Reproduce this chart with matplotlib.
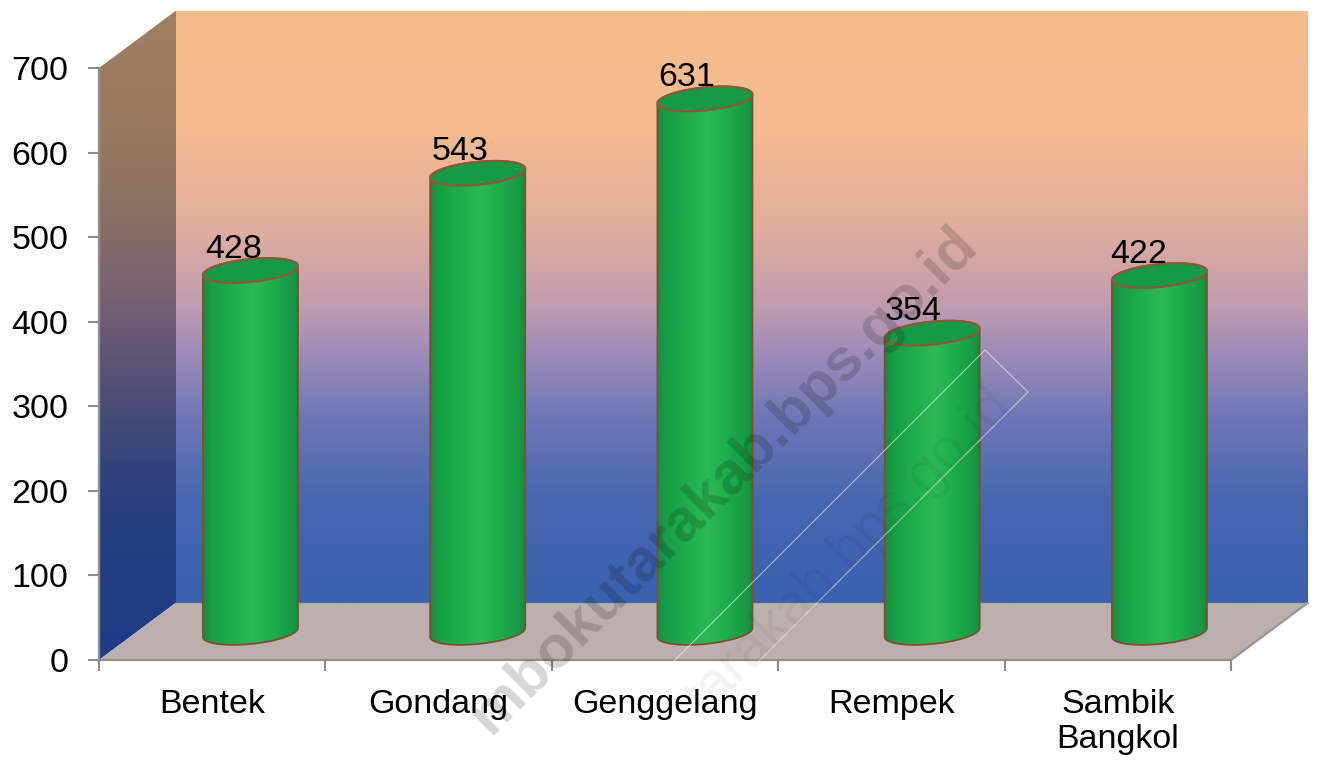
import numpy as np
import matplotlib
matplotlib.use("Agg")
import matplotlib.pyplot as plt
from matplotlib.colors import LinearSegmentedColormap
from matplotlib.patches import Polygon
from matplotlib.path import Path
from matplotlib.lines import Line2D

plt.rcParams['font.family'] = ['Liberation Sans', 'DejaVu Sans']

categories = ["Bentek", "Gondang", "Genggelang", "Rempek", "Sambik\nBangkol"]
values = [428, 543, 631, 354, 422]
y_ticks = [0, 100, 200, 300, 400, 500, 600, 700]

W, H = 1319, 761
fig = plt.figure(figsize=(W / 100, H / 100), dpi=100, facecolor="white")
ax = fig.add_axes([99 / W, (H - 660) / H, 1132 / W, 592 / H])
ax.patch.set_visible(False)

PX_X = 5 / 1132      # data units per pixel, horizontally
PX_Y = 700 / 592     # data units per pixel, vertically
depth_x = 76.5 * PX_X
depth_y = 57 * PX_Y
bar_step = 227.25 * PX_X
LABEL_SIZE = 24.5

wall_stops = [(0.0, "#F5BC8C"), (0.20, "#F3BB91"), (0.37, "#DFAD9F"), (0.50, "#BF9CB0"),
              (0.58, "#9C8CB8"), (0.69, "#6F76B5"), (0.83, "#4766B0"), (1.0, "#3A61AE")]
side_stops = [(0.0, "#A27F60"), (0.25, "#927560"), (0.42, "#7B6470"), (0.55, "#5A5275"),
              (0.70, "#33437A"), (0.85, "#223D82"), (1.0, "#1E3C88")]
bar_stops = [(0.0, "#1A8A40"), (0.10, "#189F47"), (0.35, "#22B04E"), (0.52, "#2CB856"),
             (0.72, "#20AD4C"), (0.92, "#189A44"), (1.0, "#178A3E")]


def gradient(stops, vertical=True, zorder=1, extent=None, clip=None):
    cmap = LinearSegmentedColormap.from_list("g", stops)
    ramp = np.linspace(0, 1, 256)
    arr = ramp[:, None] if vertical else ramp[None, :]
    im = ax.imshow(arr, cmap=cmap, vmin=0, vmax=1, extent=extent, aspect="auto",
                   origin="upper", zorder=zorder, interpolation="bilinear")
    im.set_clip_box(fig.bbox)
    im.set_clip_path(Path(clip, closed=False), transform=ax.transData)
    return im


# side wall runs slightly under the back wall so no seam shows between them
seam = 2 * PX_X
side = [(0, 0), (0, 700), (depth_x, 700 + depth_y), (depth_x + seam, 700 + depth_y),
        (depth_x + seam, depth_y), (depth_x, depth_y), (0, 0)]
gradient(side_stops, extent=(0, depth_x + seam, 0, 700 + depth_y), clip=side, zorder=0.9)

back = [(depth_x, depth_y), (depth_x, 700 + depth_y), (5 + depth_x, 700 + depth_y),
        (5 + depth_x, depth_y), (depth_x, depth_y)]
gradient(wall_stops, extent=(depth_x, 5 + depth_x, depth_y, 700 + depth_y), clip=back)

ax.add_patch(Polygon([(0, 0), (depth_x, depth_y), (5 + depth_x, depth_y), (5, 0)],
                     closed=True, facecolor="#BCB0AF", edgecolor="none",
                     clip_on=False, zorder=1.5))
ax.add_line(Line2D([5, 5 + depth_x], [0, depth_y], color="#9A9696", lw=1.6,
                   clip_on=False, zorder=1.6))
ax.add_line(Line2D([depth_x, 5 + depth_x], [depth_y, depth_y], color="#A8A4AE", lw=1.0,
                   clip_on=False, zorder=1.6))

# cylinders
half_w = 47.5 * PX_X
half_h = 11.5 * PX_Y
tilt = 4.5 * PX_Y
theta = np.linspace(0, 2 * np.pi, 121)


def ring(cx, level, t):
    return cx + half_w * np.cos(t), level + half_h * np.sin(t) + tilt * np.cos(t)


for i, v in enumerate(values):
    cx = 0.5 + depth_x / 2 + i * bar_step
    base = depth_y / 2 - 1 * PX_Y
    top = base + v

    t_low = np.linspace(np.pi, 2 * np.pi, 60)
    t_up = np.linspace(0, np.pi, 60)
    xb, yb = ring(cx, base, t_low)
    xt, yt = ring(cx, top, t_up)
    body = np.column_stack([np.r_[xb, xt], np.r_[yb, yt]])
    body = np.vstack([body, body[0]])

    gradient(bar_stops, vertical=False, zorder=3,
             extent=(cx - half_w, cx + half_w, base - 2 * half_h, top + 2 * half_h), clip=body)
    ax.add_patch(Polygon(body, closed=True, facecolor="none", edgecolor="#7B4F30",
                         lw=1.3, clip_on=False, zorder=3.2))

    xe, ye = ring(cx, top, theta)
    ax.add_patch(Polygon(np.column_stack([xe, ye]), closed=True, facecolor="#149A48",
                         edgecolor="#8C5A36", lw=1.6, clip_on=False, zorder=3.4))

    # value labels follow the category spacing rather than the cylinder spacing
    ax.text(i + 0.5 + depth_x / 2 - 17 * PX_X, top + 13 * PX_Y, str(v), fontsize=LABEL_SIZE,
            color="black", ha="center", va="baseline", zorder=5)

# axes, ticks and tick labels
ax.set_xlim(0, 5)
ax.set_ylim(0, 700)
ax.set_xticks(range(6))
ax.set_xticklabels([])
ax.set_xticks(np.arange(5) + 0.5, categories, minor=True)
ax.set_yticks(y_ticks)
ax.tick_params(axis="y", which="major", length=8, width=1.5, color="#8C8C8C",
               labelsize=LABEL_SIZE, pad=14)
ax.tick_params(axis="x", which="major", length=8, width=1.5, color="#8C8C8C")
ax.tick_params(axis="x", which="minor", length=0, labelsize=LABEL_SIZE, pad=21.2)
for lbl in ax.get_xticklabels(minor=True):
    lbl.set_linespacing(1.16)
    lbl.set_multialignment("center")
for name in ("top", "right"):
    ax.spines[name].set_visible(False)
for name in ("left", "bottom"):
    ax.spines[name].set_color("#8F8F8F")
    ax.spines[name].set_linewidth(1.6)

# publisher's marks across the page, laid out in figure pixels
over = fig.add_axes([0, 0, 1, 1], zorder=10)
over.set_xlim(0, W)
over.set_ylim(H, 0)
over.axis("off")
over.text(968, 236, "mbokutarakab.bps.go.id", fontsize=43, fontweight="bold",
          color=(0, 0, 0, 0.16), rotation=45, rotation_mode="anchor", ha="right", va="center")
over.text(1003, 398, "tarakab.bps.go.id", fontsize=41, color=(0, 0, 0, 0.05),
          rotation=45, rotation_mode="anchor", ha="right", va="center")
over.add_line(Line2D([670, 985, 1028, 755], [665, 350, 392, 665],
                     color="white", lw=0.7, alpha=0.6))

fig.savefig("out.png", dpi=100, facecolor="white")
